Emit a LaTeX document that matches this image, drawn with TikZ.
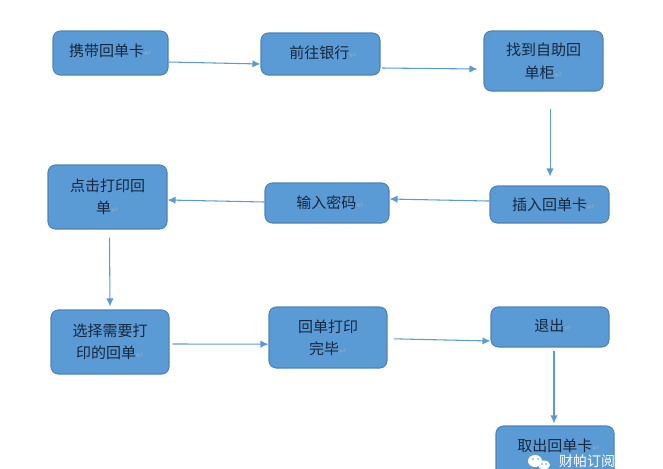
\documentclass[tikz,border=0pt]{standalone}
\usepackage{fontspec}
\setmainfont{Noto Sans CJK SC}
\newfontfamily\symfont{DejaVu Sans}
\usetikzlibrary{arrows.meta,calc}
\definecolor{boxfill}{HTML}{5B9BD5}
\definecolor{boxline}{HTML}{4F83B5}
\definecolor{txtcol}{HTML}{16263C}
\definecolor{markcol}{HTML}{8FA9C4}
\newcommand{\pmk}{{\symfont\fontsize{7}{7}\selectfont\textcolor{markcol}{↵}}}
\tikzset{
  flowbox/.style={draw=boxline,line width=0.8pt,fill=boxfill,rounded corners=5.5pt,
    minimum width=#1,inner sep=0pt,text=txtcol,align=center,
    font=\fontsize{11.25}{16.5}\selectfont},
  flowarrow/.style={draw=boxfill,line width=0.8pt,-{Latex[length=6pt,width=5.5pt]}},
}
\begin{document}
\begin{tikzpicture}[x=0.75pt,y=-0.75pt]
\useasboundingbox (0,0) rectangle (663,468);
\begin{scope}
\clip (0,0) rectangle (663,468);
% boxes: centre (x,y), size in px
\node[flowbox=86.25pt,minimum height=33pt] (a) at (110.5,53) {\raisebox{3.5pt}{携带回单卡\pmk}};
\node[flowbox=89.25pt,minimum height=31.5pt] (b) at (320.5,54) {\hspace{4pt}\raisebox{2.5pt}{前往银行\pmk}};
\node[flowbox=89.25pt,minimum height=45pt] (c) at (543.5,61) {\raisebox{-1.5pt}{找到自助回}\\\raisebox{-2.5pt}{单柜\pmk}};
\node[flowbox=89.25pt,minimum height=27.75pt] (d) at (549.5,204.5) {\hspace{6pt}\raisebox{-0.5pt}{插入回单卡\pmk}};
\node[flowbox=93pt,minimum height=30pt] (e) at (327,203) {\hspace{5pt}输入密码\pmk};
\node[flowbox=89.25pt,minimum height=48pt] (f) at (107.5,197) {点击打印回\\单\pmk};
\node[flowbox=88.5pt,minimum height=48pt] (g) at (110,342) {选择需要打\\印的回单\pmk};
\node[flowbox=88.5pt,minimum height=45.75pt] (h) at (328,337.5) {回单打印\\完毕\pmk};
\node[flowbox=88.5pt,minimum height=30pt] (i) at (550,327) {\hspace{5pt}\raisebox{2pt}{退出\pmk}};
\node[flowbox=88.5pt,minimum height=37.5pt] (j) at (555,451) {\hspace{5.5pt}\raisebox{8.5pt}{取出回单卡\pmk}};
% connectors
\draw[flowarrow] ([yshift=-6.75pt]a.east) -- ([yshift=-7.5pt]b.west);
\draw[flowarrow] ([xshift=1pt,yshift=-10.5pt]b.east) -- ([xshift=-4.5pt,yshift=-6pt]c.west);
\draw[flowarrow] ([xshift=4.9pt,yshift=-12.75pt]c.south) -- ([xshift=0.4pt,yshift=6.75pt]d.north);
\draw[flowarrow] ([yshift=2.6pt]d.west) -- ([yshift=3pt]e.east);
\draw[flowarrow] ([yshift=0.75pt]e.west) -- ([yshift=-2.25pt]f.east);
\draw[flowarrow] ([xshift=1.5pt,yshift=-6pt]f.south) -- ([xshift=0pt,yshift=2.25pt]g.north);
\draw[flowarrow] ([xshift=2.25pt,yshift=-1.5pt]g.east) -- ([yshift=-5pt]h.west);
\draw[flowarrow] ([xshift=5pt,yshift=-1pt]h.east) -- ([yshift=-10.5pt]i.west);
\draw[flowarrow] ([xshift=3pt,yshift=-2.25pt]i.south) -- ([xshift=-0.75pt,yshift=1.5pt]j.north);
% watermark
\node[inner sep=0pt,text=white,font=\fontsize{10.5}{12}\selectfont] (w) at (587,461) {财帕订阅};
\fill[white] (535,461) ellipse (7 and 6);
\fill[white] (544,465) ellipse (6 and 4.5);
\fill[boxfill] (533,459) circle (0.9) (538,459) circle (0.9) (542,464) circle (0.8) (546,464) circle (0.8);
\end{scope}
\end{tikzpicture}
\end{document}
